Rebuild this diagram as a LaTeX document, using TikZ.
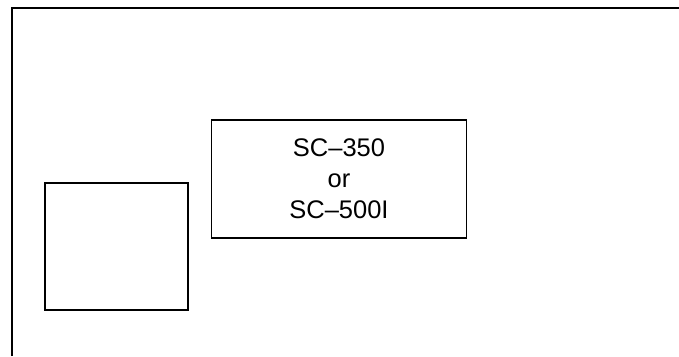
\documentclass[tikz,border=0pt]{standalone}
\usepackage{fontspec}
\setmainfont{Liberation Sans}
\usetikzlibrary{positioning}

\begin{document}
\begin{tikzpicture}
    \tikzset{unit/.style={draw=black,line width=1.1pt,inner sep=0pt,anchor=center,align=center,font=\fontsize{14.5}{17.6}\selectfont}}
    \useasboundingbox (0,0) rectangle (13.58,7.12);
    \coordinate (fb) at (0.24,0);
    \coordinate (fc) at (0.24,6.96);
    \coordinate (fr) at (13.58,6.96);
    \draw[line width=1.1pt] (fb) -- (fc) -- (fr);
    \node[unit,minimum width=5.1cm,minimum height=2.36cm] (sc) at (6.78,3.54) {SC--350\\or\\SC--500I};
    \node[unit,minimum width=2.86cm,minimum height=2.54cm] (pad) at (2.33,2.19) {};
  \end{tikzpicture}
\end{document}
